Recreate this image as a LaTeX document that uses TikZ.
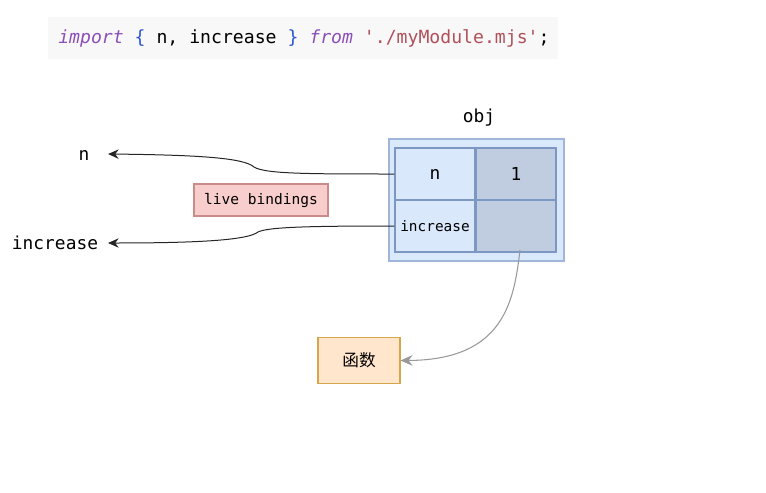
\documentclass[tikz,border=0pt]{standalone}
\usepackage{fontspec}
\setmonofont{DejaVu Sans Mono}
\newfontfamily\cjk{Noto Sans CJK SC}
\usetikzlibrary{arrows.meta}
\definecolor{kw}{HTML}{8B4FB8}
\definecolor{brace}{HTML}{2F55D4}
\definecolor{strc}{HTML}{B0505A}
\definecolor{codebg}{HTML}{F8F8F9}
\definecolor{objfill}{HTML}{DAE8FC}
\definecolor{objline}{HTML}{9FB6DA}
\definecolor{cellline}{HTML}{7C97C2}
\definecolor{valfill}{HTML}{C0CDE0}
\definecolor{redfill}{HTML}{F8CECC}
\definecolor{redline}{HTML}{C98C8A}
\definecolor{orfill}{HTML}{FFE6CC}
\definecolor{orline}{HTML}{D9A54A}
\tikzset{
  cell/.style={draw=cellline, line width=0.8pt, fill=objfill, minimum width=60pt, minimum height=39pt, inner sep=0pt, font=\ttfamily\fontsize{13.4}{15}\selectfont},
  valcell/.style={cell, fill=valfill},
  lbl/.style={font=\ttfamily\fontsize{13.4}{15}\selectfont, inner sep=0pt},
  arr/.style={draw=black!85, line width=0.75pt, -{Stealth[length=8pt,width=7pt]}},
  grayarr/.style={draw=black!40, line width=0.8pt, -{Stealth[length=9pt,width=8pt]}}
}
\begin{document}
\begin{tikzpicture}[x=0.75pt,y=-0.75pt]
\useasboundingbox (0,0) rectangle (766,492);
% code line
\fill[codebg] (48,17) rectangle (558,59);
\node[anchor=west, inner sep=0pt, font=\ttfamily\fontsize{13.6}{16}\selectfont] (code) at (58,38)
 {\textcolor{kw}{\itshape import} \textcolor{brace}{\{} n, increase \textcolor{brace}{\}} \textcolor{kw}{\itshape from} \textcolor{strc}{'./myModule.mjs'};};
% obj
\node[lbl] (objlab) at (479,118) {obj};
\node[draw=objline, fill=objfill, line width=0.8pt, minimum width=131.25pt, minimum height=91.5pt, inner sep=0pt] (obj) at (476.5,200) {};
\node[cell] (ncell) at (435,174) {n};
\node[valcell] (nval) at (516,174) {1};
\node[cell, font=\ttfamily\fontsize{10.8}{12}\selectfont] (icell) at (435,226) {increase};
\node[valcell] (ival) at (516,226) {};
% left labels
\node[lbl] (nlab) at (84,155) {n};
\node[lbl] (ilab) at (55,243) {increase};
\coordinate (nend) at (108,154);
\coordinate (iend) at (108,243);
% live bindings
\node[draw=redline, fill=redfill, line width=0.8pt, minimum width=100.5pt, minimum height=24pt, inner sep=0pt, font=\ttfamily\fontsize{10.9}{12}\selectfont] (live) at (261,200) {live bindings};
% function box
\node[draw=orline, fill=orfill, line width=0.8pt, minimum width=61.5pt, minimum height=34pt, inner sep=0pt, font=\cjk\fontsize{12.5}{14}\selectfont] (fn) at (359,360.5) {函数};
% arrows
\draw[arr] (ncell.west) .. controls (310,174) and (265,174) .. (254,167)
  .. controls (244,158) and (200,155) .. (nend);
\draw[arr] (icell.west) .. controls (310,226) and (268,227) .. (258,232)
  .. controls (248,240) and (200,243) .. (iend);
\coordinate (fstart) at (520,250);
\draw[grayarr] (fstart) .. controls (514,300) and (505,360) .. (fn.east);
\end{tikzpicture}
\end{document}
